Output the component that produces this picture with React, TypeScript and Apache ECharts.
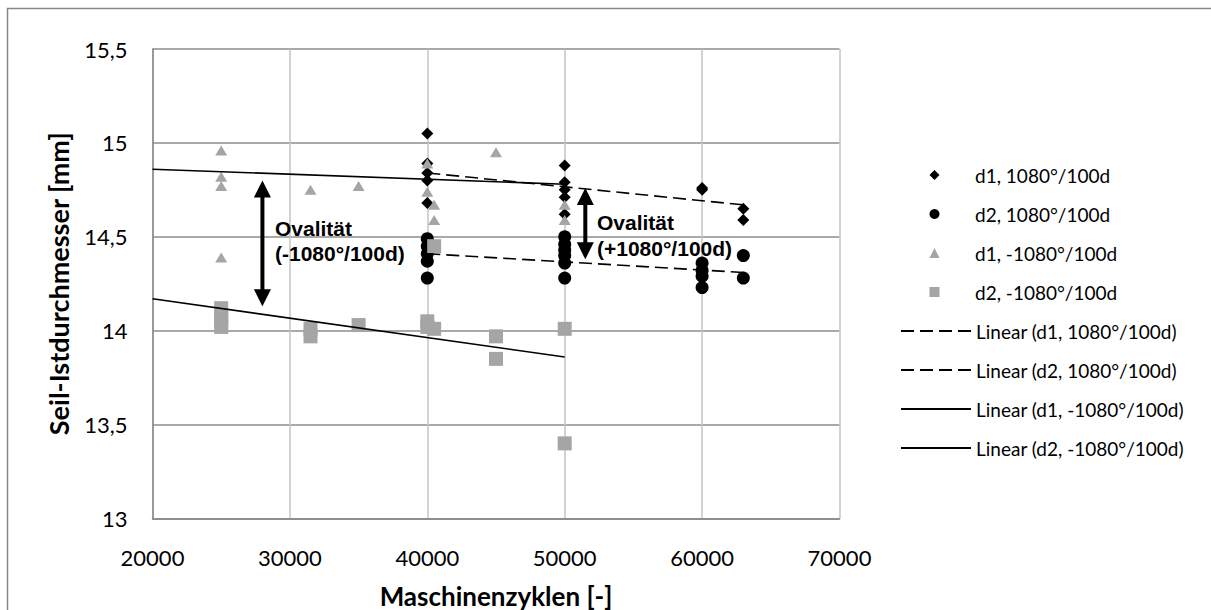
import React, { useEffect, useRef } from 'react';
import * as echarts from 'echarts';

// Series names
const nameD1Pos = 'd1, 1080°/100d';
const nameD2Pos = 'd2, 1080°/100d';
const nameD1Neg = 'd1, -1080°/100d';
const nameD2Neg = 'd2, -1080°/100d';
const nameTrendD1Pos = 'Linear (d1, 1080°/100d)';
const nameTrendD2Pos = 'Linear (d2, 1080°/100d)';
const nameTrendD1Neg = 'Linear (d1, -1080°/100d)';
const nameTrendD2Neg = 'Linear (d2, -1080°/100d)';

// Measured points [Maschinenzyklen, Seil-Istdurchmesser]
const d1Pos: number[][] = [
  [40000, 15.05], [40000, 14.89], [40000, 14.84], [40000, 14.8], [40000, 14.68],
  [50000, 14.88], [50000, 14.79], [50000, 14.75], [50000, 14.71], [50000, 14.62],
  [60000, 14.76], [60000, 14.75],
  [63000, 14.65], [63000, 14.59],
];
const d2Pos: number[][] = [
  [40000, 14.49], [40000, 14.45], [40000, 14.41], [40000, 14.37], [40000, 14.28],
  [50000, 14.5], [50000, 14.46], [50000, 14.43], [50000, 14.4], [50000, 14.36], [50000, 14.28],
  [60000, 14.36], [60000, 14.32], [60000, 14.29], [60000, 14.23],
  [63000, 14.4], [63000, 14.28],
];
const d1Neg: number[][] = [
  [25000, 14.96], [25000, 14.82], [25000, 14.77], [25000, 14.39],
  [31500, 14.75], [35000, 14.77],
  [40000, 14.89], [40000, 14.74], [40500, 14.67], [40500, 14.59],
  [45000, 14.95],
  [50000, 14.67], [50000, 14.59],
];
const d2Neg: number[][] = [
  [25000, 14.12], [25000, 14.08], [25000, 14.05], [25000, 14.02],
  [31500, 14.01], [31500, 13.97],
  [35000, 14.03],
  [40000, 14.05], [40000, 14.02], [40500, 14.01], [40500, 14.45],
  [45000, 13.97], [45000, 13.85],
  [50000, 14.01], [50000, 13.4],
];

// Linear trend lines (start, end)
const trendD1Pos: number[][] = [[40000, 14.84], [63000, 14.67]];
const trendD2Pos: number[][] = [[40000, 14.41], [63000, 14.31]];
const trendD1Neg: number[][] = [[20000, 14.86], [50000, 14.78]];
const trendD2Neg: number[][] = [[20000, 14.17], [50000, 13.86]];

// Double arrows [x, yTop, yBottom]
const arrows: number[][] = [
  [28000, 14.8, 14.13],
  [51500, 14.76, 14.38],
];

const labelFont = 'Lato';
const annFont = '"Liberation Sans", Arial, sans-serif';
const gray = '#a5a5a5';

export default function App() {
  const ref = useRef<HTMLDivElement>(null);
  useEffect(() => {
    const chart = echarts.init(ref.current!, null, { renderer: 'svg' });
    const trendStyle = (dashed: boolean) => ({
      type: 'line',
      symbol: 'none',
      showSymbol: false,
      z: 4,
      itemStyle: { color: '#000' },
      lineStyle: { color: '#000', width: 1.6, type: dashed ? [13, 6] : 'solid' },
    });
    const legendText = { fontFamily: labelFont, fontSize: 19, lineHeight: 20, color: '#000' };
    chart.setOption({
      animation: false,
      backgroundColor: '#fff',
      grid: { left: 152.5, top: 49, width: 687, height: 469.5, containLabel: false, outerBoundsMode: 'none' },
      legend: [
        {
          orient: 'vertical',
          left: 924.5,
          top: 160,
          itemWidth: 10,
          itemHeight: 10,
          itemGap: 19,
          selectedMode: false,
          textStyle: { ...legendText, padding: [0, 0, 0, 30.5] },
          data: [nameD1Pos, nameD2Pos, nameD1Neg, nameD2Neg],
        },
        {
          orient: 'vertical',
          left: 895,
          top: 316,
          itemWidth: 70,
          itemHeight: 10,
          itemGap: 19,
          selectedMode: false,
          itemStyle: { opacity: 0 },
          textStyle: legendText,
          data: [nameTrendD1Pos, nameTrendD2Pos, nameTrendD1Neg, nameTrendD2Neg],
        },
      ],
      xAxis: {
        type: 'value',
        min: 20000,
        max: 70000,
        interval: 10000,
        name: 'Maschinenzyklen [-]',
        nameLocation: 'middle',
        nameGap: 64,
        nameTextStyle: { fontFamily: labelFont, fontWeight: 'bold', fontSize: 26, lineHeight: 26, color: '#000' },
        axisLine: { show: true, onZero: false, lineStyle: { color: '#868686', width: 1.5 } },
        axisTick: { show: false },
        axisLabel: { fontFamily: labelFont, fontSize: 22, color: '#000', margin: 28, formatter: (v: number) => String(v) },
        splitLine: { show: true, lineStyle: { color: '#c4c4c4', width: 1.5 } },
      },
      yAxis: {
        type: 'value',
        min: 13,
        max: 15.5,
        interval: 0.5,
        name: 'Seil-Istdurchmesser [mm]',
        nameLocation: 'middle',
        nameGap: 81,
        nameTextStyle: { fontFamily: labelFont, fontWeight: 'bold', fontSize: 27, color: '#000' },
        axisLine: { show: true, onZero: false, lineStyle: { color: '#868686', width: 1.5 } },
        axisTick: { show: false },
        axisLabel: {
          fontFamily: labelFont,
          fontSize: 22,
          color: '#000',
          margin: 25,
          formatter: (v: number) => String(v).replace('.', ','),
        },
        splitLine: { show: true, lineStyle: { color: '#8c8c8c', width: 1.5 } },
      },
      series: [
        { name: nameD1Pos, type: 'scatter', symbol: 'diamond', symbolSize: 12, itemStyle: { color: '#000', opacity: 1 }, data: d1Pos, z: 3 },
        { name: nameD2Pos, type: 'scatter', symbol: 'circle', symbolSize: 13, itemStyle: { color: '#000', opacity: 1 }, data: d2Pos, z: 3 },
        { name: nameD1Neg, type: 'scatter', symbol: 'triangle', symbolSize: [12, 10], itemStyle: { color: gray, opacity: 1 }, data: d1Neg, z: 3 },
        { name: nameD2Neg, type: 'scatter', symbol: 'rect', symbolSize: 14, itemStyle: { color: gray, opacity: 1 }, data: d2Neg, z: 3 },
        { name: nameTrendD1Pos, ...trendStyle(true), data: trendD1Pos },
        { name: nameTrendD2Pos, ...trendStyle(true), data: trendD2Pos },
        { name: nameTrendD1Neg, ...trendStyle(false), data: trendD1Neg },
        { name: nameTrendD2Neg, ...trendStyle(false), data: trendD2Neg },
        {
          type: 'custom',
          z: 5,
          clip: false,
          encode: { x: 0, y: [1, 2] },
          data: arrows,
          renderItem: (params: any, api: any) => {
            const x = api.value(0);
            const top = api.coord([x, api.value(1)]);
            const bot = api.coord([x, api.value(2)]);
            const hw = 8.5;
            const hl = 17;
            const sw = 2;
            return {
              type: 'group',
              children: [
                { type: 'rect', shape: { x: top[0] - sw, y: top[1] + hl - 1, width: sw * 2, height: bot[1] - top[1] - 2 * hl + 2 }, style: { fill: '#000' } },
                { type: 'polygon', shape: { points: [[top[0], top[1]], [top[0] - hw, top[1] + hl], [top[0] + hw, top[1] + hl]] }, style: { fill: '#000' } },
                { type: 'polygon', shape: { points: [[bot[0], bot[1]], [bot[0] - hw, bot[1] - hl], [bot[0] + hw, bot[1] - hl]] }, style: { fill: '#000' } },
              ],
            };
          },
        },
      ],
      graphic: [
        { type: 'rect', z: 0, shape: { x: 7.5, y: 8.5, width: 1400, height: 800 }, style: { fill: 'none', stroke: '#878787', lineWidth: 1.5 } },
        { type: 'text', z: 10, x: 275, y: 228, style: { text: 'Ovalität', fontFamily: annFont, fontWeight: 'bold', fontSize: 21, fill: '#000', verticalAlign: 'middle' } },
        { type: 'text', z: 10, x: 275, y: 253, style: { text: '(-1080°/100d)', fontFamily: annFont, fontWeight: 'bold', fontSize: 21, fill: '#000', verticalAlign: 'middle' } },
        { type: 'text', z: 10, x: 597, y: 222.5, style: { text: 'Ovalität', fontFamily: annFont, fontWeight: 'bold', fontSize: 21, fill: '#000', verticalAlign: 'middle' } },
        { type: 'text', z: 10, x: 597, y: 248, style: { text: '(+1080°/100d)', fontFamily: annFont, fontWeight: 'bold', fontSize: 21, fill: '#000', verticalAlign: 'middle' } },
      ],
    });
    return () => chart.dispose();
  }, []);
  return (
    <div
      ref={ref}
      style={{ position: 'absolute', left: 0, top: 0, width: 1211, height: 610, background: '#fff' }}
    />
  );
}
